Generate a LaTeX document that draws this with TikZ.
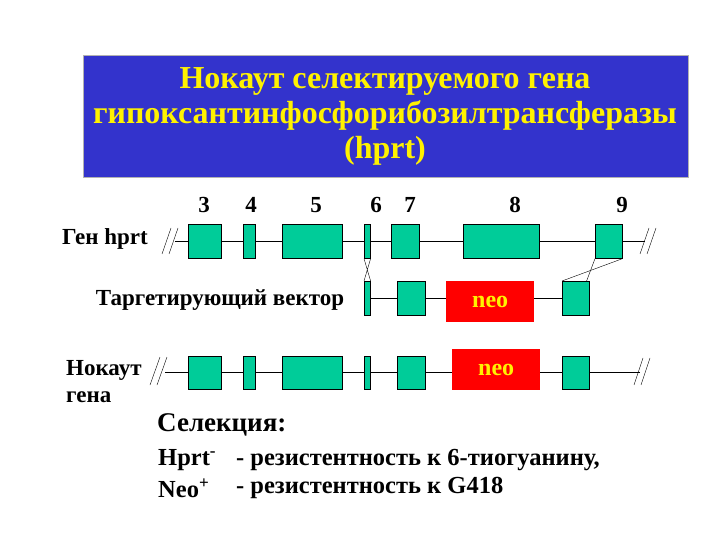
\documentclass[tikz,border=0pt]{standalone}
\usepackage{fontspec}
\setmainfont{Liberation Serif}[BoldFont={Liberation Serif Bold}]
\newfontfamily\ser{Liberation Serif}[BoldFont={Liberation Serif Bold}]
\begin{document}
\begin{tikzpicture}[x=1pt,y=-1pt,
 neobox/.style={fill=red,draw=none,text=yellow,font=\ser\bfseries\fontsize{24}{24}\selectfont},
 lab/.style={font=\ser\bfseries\fontsize{23}{27}\selectfont,inner sep=0pt},
 sub/.style={font=\ser\bfseries\fontsize{24.5}{27}\selectfont,inner sep=0pt},
 num/.style={font=\ser\bfseries\fontsize{23}{23}\selectfont,inner sep=0pt},
 ln/.style={line width=0.6pt},
 sl/.style={line width=0.4pt}]
\useasboundingbox (0,0) rectangle (720,540);
\definecolor{exc}{RGB}{0,204,153}
\tikzset{ex/.style={draw=black,fill=exc,line width=0.6pt}}
% title
\node[fill={rgb,255:red,51;green,51;blue,204},draw=black!30,minimum width=605,minimum height=122,anchor=north west,inner sep=0] (title) at (83,55) {};
\node[text=yellow,font=\ser\bfseries\fontsize{32}{35}\selectfont,align=center] (tt) at (385,116) {Нокаут селектируемого гена\\гипоксантинфосфорибозилтрансферазы\\(hprt)};
% numbers
\foreach \n/\x in {3/204,4/251,5/316,6/376,7/410,8/515,9/622}{\node[num] (n\n) at (\x,205) {\n};}
% row 1
\coordinate (r1s) at (175,241); \coordinate (r1e) at (645,241);
\draw[ln] (r1s) -- (r1e);
\foreach \a/\b/\nm in {188/221/a3,243/255/a4,282/342/a5,364/370/a6,391/419/a7,463/539/a8,595/622/a9}{
 \node[ex,anchor=north west,minimum width=\b-\a,minimum height=34,inner sep=0] (\nm) at (\a,224) {};}
\draw[sl] (162,254)--(171,228) (169,254)--(178,228);
\draw[sl] (640,254)--(649,228) (647,254)--(656,228);
\node[lab,anchor=west] (l1) at (62,239) {Ген hprt};
% row 2
\node[ex,anchor=north west,minimum width=6,minimum height=34,inner sep=0] (b6) at (364,281) {};
\node[ex,anchor=north west,minimum width=28,minimum height=34,inner sep=0] (b7) at (397,281) {};
\node[neobox,anchor=north west,minimum width=88,minimum height=41,inner sep=0] (b8) at (446,281) {neo};
\node[ex,anchor=north west,minimum width=27,minimum height=34,inner sep=0] (b9) at (562,281) {};
\draw[ln] (b6.east) -- (b7.west) (b7.east) -- (b8.west |- b7.east) (b8.east |- b9.west) -- (b9.west);
\draw[sl] (a6.south west) -- (b6.north east) (a6.south east) -- (b6.north west);
\draw[sl] (a9.south east) -- (b9.north west) (a9.south west) -- ([xshift=-3]b9.north east);
\node[font=\ser\bfseries\fontsize{23}{25}\selectfont,inner sep=0] (l2) at (220,300) {Таргетирующий вектор};
% row 3
\coordinate (r3s) at (165,372); \coordinate (r3e) at (640,372);
\draw[ln] (r3s) -- (r3e);
\foreach \a/\b/\nm in {188/221/c3,243/255/c4,282/342/c5,364/370/c6,397/425/c7,562/589/c9}{
 \node[ex,anchor=north west,minimum width=\b-\a,minimum height=33,inner sep=0] (\nm) at (\a,356) {};}
\node[neobox,anchor=north west,minimum width=88,minimum height=41,inner sep=0] (c8) at (452,349) {neo};
\draw[sl] (150,385)--(160,357) (157,385)--(167,357);
\draw[sl] (634,385)--(643,358) (641,385)--(650,358);
\node[lab,anchor=west,align=left] (l3) at (66,382) {Нокаут\\гена};
% selection
\node[font=\ser\bfseries\fontsize{27}{27}\selectfont,anchor=west,inner sep=0] (sel) at (157,425) {Селекция:};
\node[sub,anchor=west] (h1) at (158,460) {Hprt\textsuperscript{-}};
\node[sub,anchor=west] (h2) at (158,488) {Neo\textsuperscript{+}};
\node[sub,anchor=west] (d1) at (236,460) {- резистентность к 6-тиогуанину,};
\node[sub,anchor=west] (d2) at (236,488) {- резистентность к G418};
\end{tikzpicture}
\end{document}
